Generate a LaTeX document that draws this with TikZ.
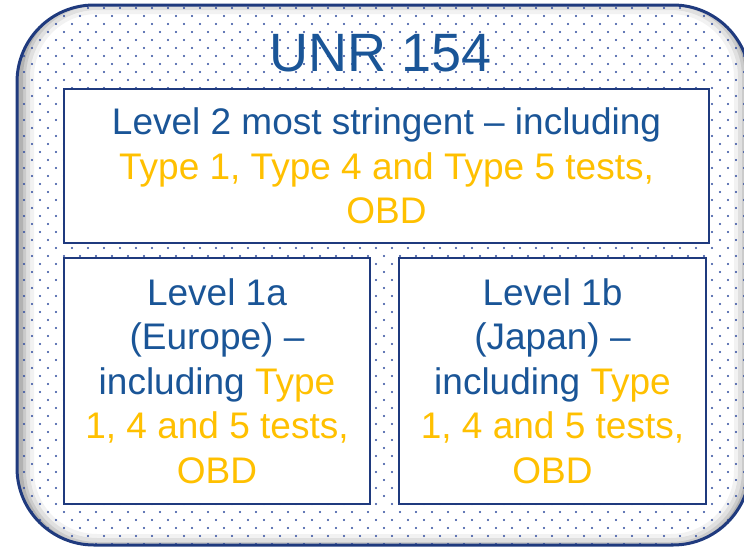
\documentclass[tikz,border=0pt]{standalone}
\usepackage{fontspec}
\setmainfont{Liberation Sans}
\usepackage[dvipsnames]{xcolor}
\usepackage{tikz}
\usetikzlibrary{calc,positioning}
\definecolor{unrblue}{HTML}{1A5597}
\definecolor{unrnavy}{HTML}{1F3A7E}
\definecolor{unrgold}{HTML}{FFC000}
\definecolor{unrdot}{HTML}{2E4A9E}

\begin{document}
\begin{tikzpicture}[x=1pt,y=-1pt,
  levelbox/.style={draw=unrnavy,line width=2pt,fill=white,align=center,inner sep=0pt,
    text=unrblue,font=\fontsize{37}{44.5}\selectfont}]
\useasboundingbox (0,0) rectangle (744,546);
% dotted panel with a soft inner shadow
\begin{scope}
\clip[rounded corners=77pt] (17,5) rectangle (750,545);
\fill[white] (0,0) rectangle (750,546);
\foreach \w/\o in {28/0.05,20/0.07,12/0.09,6/0.12}
  \draw[rounded corners=77pt,line width=\w pt,black,opacity=\o] (20,0) rectangle (748,548);
\foreach \r [evaluate=\r as \s using {8*mod(\r,2)}] in {0,...,68}
  \foreach \c in {0,...,47}
    \fill[unrdot] ({16*\c+\s},{8*\r}) circle (1.1);
\end{scope}
\draw[unrnavy,line width=3pt,rounded corners=77pt] (17,5) rectangle (750,545);
\node[anchor=base,text=unrblue,font=\fontsize{54}{60}\selectfont] (title) at (381,71) {UNR 154};
\node[levelbox,minimum width=645pt,minimum height=154pt] (level2) at (386.5,166)
  {Level 2 most stringent -- including\\
   \textcolor{unrgold}{Type 1, Type 4 and Type 5 tests,}\\
   \textcolor{unrgold}{OBD}};
\node[levelbox,minimum width=306pt,minimum height=246pt] (level1a) at (217,381)
  {Level 1a\\(Europe) --\\including \textcolor{unrgold}{Type}\\
   \textcolor{unrgold}{1, 4 and 5 tests,}\\\textcolor{unrgold}{OBD}};
\node[levelbox,minimum width=307pt,minimum height=246pt] (level1b) at (552.5,381)
  {Level 1b\\(Japan) --\\including \textcolor{unrgold}{Type}\\
   \textcolor{unrgold}{1, 4 and 5 tests,}\\\textcolor{unrgold}{OBD}};
\end{tikzpicture}
\end{document}
